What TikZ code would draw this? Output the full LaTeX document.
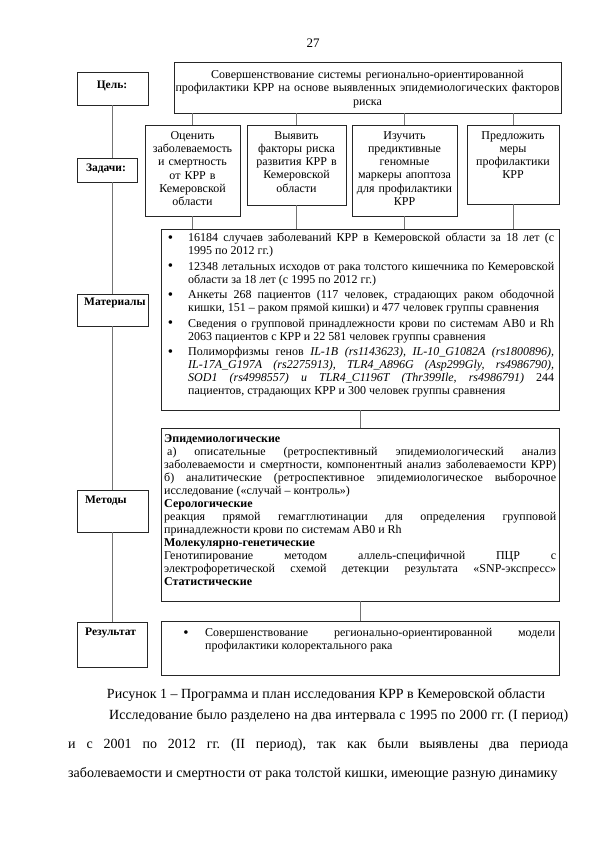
\documentclass[tikz,border=0pt]{standalone}
\usepackage{fontspec}
\setmainfont{Liberation Serif}
\newcommand{\bitem}[1]{\leavevmode\llap{\raisebox{-0.7pt}{\fontsize{15}{13}\selectfont •}\hspace{#1}}}
\begin{document}
\frenchspacing
\begin{tikzpicture}[x=1pt,y=-1pt,
  box/.style={draw=black!85, line width=0.9pt, inner sep=0pt},
  conn/.style={draw=black!55, line width=0.7pt},
  lbl/.style={font=\fontsize{11.5}{13}\selectfont\bfseries, inner sep=0pt},
  ctxt/.style={font=\fontsize{12}{13.3}\selectfont, inner sep=0pt, align=center, anchor=north},
  jtxt/.style={font=\fontsize{12}{13}\selectfont, inner sep=0pt, align=justify, anchor=north west}]
\useasboundingbox[fill=white] (0,0) rectangle (594,841);

% page number
\node[font=\fontsize{13}{15}\selectfont, inner sep=0pt] (pg) at (313,43) {27};

% left label boxes
\node[box, minimum width=71pt, minimum height=33pt] (celL) at (112.5,88.5) {};
\node[box, minimum width=60pt, minimum height=24pt] (zadL) at (107,170) {};
\node[box, minimum width=71pt, minimum height=32pt] (matL) at (112.5,310) {};
\node[box, minimum width=71pt, minimum height=42pt] (metL) at (112.5,511) {};
\node[box, minimum width=70pt, minimum height=45pt] (resL) at (112,644.5) {};

\node[lbl] (celT) at (112,86) {Цель:};
\node[lbl] (zadT) at (106,169) {Задачи:};
\node[lbl, anchor=west] (matT) at (84,303) {Материалы};
\node[lbl, anchor=west] (metT) at (85,501) {Методы};
\node[lbl, anchor=west] (resT) at (85,633) {Результат};

% goal and tasks
\node[box, minimum width=387pt, minimum height=51pt] (goal) at (367.5,87.5) {};
\node[ctxt, text width=400pt] (goalT) at (367.5,70) {Совершенствование системы регионально-ориентированной\\профилактики КРР на основе выявленных эпидемиологических факторов\\риска};

\node[box, minimum width=95pt, minimum height=91pt] (t1) at (192.5,170.5) {};
\node[box, minimum width=99pt, minimum height=80pt] (t2) at (296.5,165) {};
\node[box, minimum width=105pt, minimum height=91pt] (t3) at (404.5,170.5) {};
\node[box, minimum width=92pt, minimum height=79pt] (t4) at (513,164.5) {};

\node[ctxt, text width=93pt] (t1T) at (192.5,131) {Оценить\\заболеваемость\\и смертность\\от КРР в\\Кемеровской\\области};
\node[ctxt, text width=97pt] (t2T) at (296.5,131) {Выявить\\факторы риска\\развития КРР в\\Кемеровской\\области};
\node[ctxt, text width=103pt] (t3T) at (404.5,131) {Изучить\\предиктивные\\геномные\\маркеры апоптоза\\для профилактики\\КРР};
\node[ctxt, text width=90pt] (t4T) at (513,131) {Предложить\\меры\\профилактики\\КРР};

% main boxes
\node[box, minimum width=398pt, minimum height=181pt] (mat) at (360,319.5) {};
\node[box, minimum width=398pt, minimum height=173pt] (met) at (360,514.5) {};
\node[box, minimum width=398pt, minimum height=54pt] (res) at (360,648) {};

\node[jtxt, text width=366pt] (matX) at (188,233) {\parindent=0pt\tolerance=9999\hyphenpenalty=10000
\bitem{15pt}16184 случаев заболеваний КРР в Кемеровской области за 18 лет (с\linebreak 1995 по 2012 гг.)\par\vspace{2.5pt}
\bitem{15pt}12348 летальных исходов от рака толстого кишечника по Кемеровской\linebreak области за 18 лет (с 1995 по 2012 гг.)\par\vspace{2.5pt}
\bitem{15pt}Анкеты 268 пациентов (117 человек, страдающих раком ободочной\linebreak кишки, 151 – раком прямой кишки) и 477 человек группы сравнения\par\vspace{2.5pt}
\bitem{15pt}Сведения о групповой принадлежности крови по системам AB0 и Rh\linebreak 2063 пациентов с КРР и 22 581 человек группы сравнения\par\vspace{2.5pt}
\bitem{15pt}Полиморфизмы генов \textit{IL-1B (rs1143623), IL-10\_G1082A (rs1800896),}\linebreak \textit{IL-17A\_G197A (rs2275913), TLR4\_A896G (Asp299Gly, rs4986790),}\linebreak \textit{SOD1 (rs4998557) и TLR4\_C1196T (Thr399Ile, rs4986791)} 244\linebreak пациентов, страдающих КРР и 300 человек группы сравнения};

\node[jtxt, text width=392pt] (metX) at (164,434) {\parindent=0pt\tolerance=9999\hyphenpenalty=10000
\textbf{Эпидемиологические}\par
\hspace*{3pt}а) описательные (ретроспективный эпидемиологический анализ\linebreak заболеваемости и смертности, компонентный анализ заболеваемости КРР)\linebreak б) аналитические (ретроспективное эпидемиологическое выборочное\linebreak исследование («случай – контроль»)\par
\textbf{Серологические}\par
реакция прямой гемагглютинации для определения групповой\linebreak принадлежности крови по системам AB0 и Rh\par
\textbf{Молекулярно-генетические}\par
Генотипирование методом аллель-специфичной ПЦР с\linebreak электрофоретической схемой детекции результата «SNP-экспресс»\linebreak \textbf{Статистические}};

\node[jtxt, text width=350pt] (resX) at (205,628) {\parindent=0pt\tolerance=9999\hyphenpenalty=10000
\bitem{16.5pt}Совершенствование регионально-ориентированной модели\linebreak профилактики колоректального рака};

% connectors
\draw[conn] (celL.south) -- (celL.south |- zadL.north);
\draw[conn] (celL.south |- zadL.south) -- (celL.south |- matL.north);
\draw[conn] (matL.south) -- (metL.north);
\draw[conn] (metL.south) -- (metL.south |- resL.north);
\foreach \t in {t1,t2,t3,t4}{
  \draw[conn] (goal.south -| \t.north) -- (\t.north);
  \draw[conn] (\t.south) -- (\t.south |- mat.north);
}
\draw[conn] (mat.south) -- (met.north);
\draw[conn] (met.south) -- (res.north);

% caption and paragraph
\node[font=\fontsize{14}{16}\selectfont, inner sep=0pt] (cap) at (326,695) {Рисунок 1 – Программа и план исследования КРР в Кемеровской области};
\node[font=\fontsize{14}{29}\selectfont, inner sep=0pt, align=justify, anchor=north west, text width=500pt] (para) at (68,709) {\parindent=0pt\parfillskip=0pt\tolerance=9999\hyphenpenalty=10000
\hspace*{41pt}Исследование было разделено на два интервала с 1995 по 2000 гг. (I период)\linebreak и с 2001 по 2012 гг. (II период), так как были выявлены два периода\linebreak заболеваемости и смертности от рака толстой кишки, имеющие разную динамику};
\end{tikzpicture}
\end{document}
